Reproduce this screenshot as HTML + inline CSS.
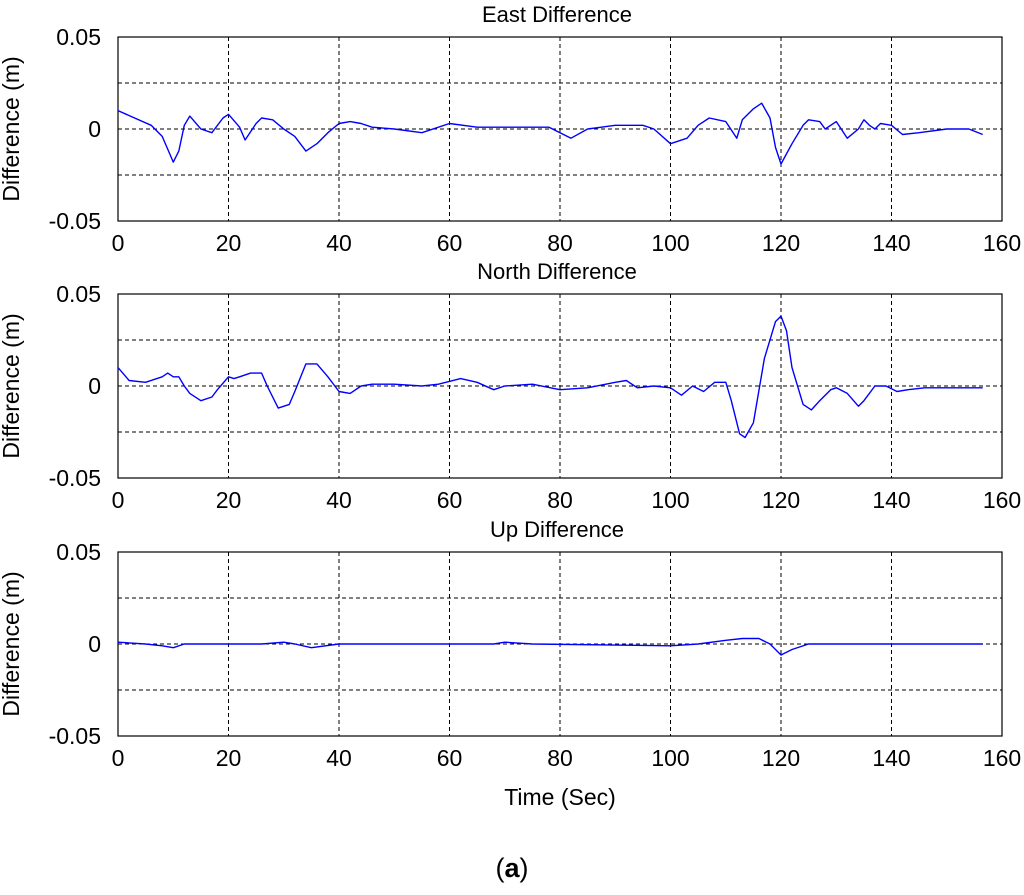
<!DOCTYPE html>
<html><head><meta charset="utf-8"><style>
body{margin:0;background:#fff;}
svg text{font-family:"Liberation Sans",sans-serif;fill:#000;}
</style></head><body>
<svg id="chart" width="1024" height="890" xmlns="http://www.w3.org/2000/svg"></svg>
<script>
const xTicks=[0,20,40,60,80,100,120,140,160];
const yTicks=[0.05,0.025,0,-0.025,-0.05];
const yTickLabels=["0.05","","0","","-0.05"];
const titles=["East Difference","North Difference","Up Difference"];
const eastT=[0,3,6,8,10,11,12,13,15,17,19,20,22,23,25,26,28,30,32,34,36,38,40,42,44,46,50,55,60,65,70,78,82,85,90,95,97,100,103,105,107,110,112,113,115,116.5,118,119,120,122,124,125,127,128,130,132,134,135,136,137,138,140,142,145,150,154,156.5];
const eastV=[0.010,0.006,0.002,-0.004,-0.018,-0.012,0.002,0.007,0.000,-0.002,0.006,0.008,0.001,-0.006,0.003,0.006,0.005,0.000,-0.004,-0.012,-0.008,-0.002,0.003,0.004,0.003,0.001,0,-0.002,0.003,0.001,0.001,0.001,-0.005,0,0.002,0.002,0.000,-0.008,-0.005,0.002,0.006,0.004,-0.005,0.005,0.011,0.014,0.006,-0.010,-0.019,-0.008,0.002,0.005,0.004,0,0.004,-0.005,0,0.005,0.002,0.000,0.003,0.002,-0.003,-0.002,0,0,-0.003];
const northT=[0,2,5,8,9,10,11,12,13,15,17,18,20,21,22,24,26,27,29,31,32,34,36,38,40,42,44,46,50,55,58,62,65,68,70,75,80,85,90,92,94,97,100,102,104,106,108,110,111,112.5,113.5,115,117,119,120,121,122,124,125.5,127,129,130,132,134,135,137,139,141,143,146,156.5];
const northV=[0.010,0.003,0.002,0.005,0.007,0.005,0.005,0,-0.004,-0.008,-0.006,-0.002,0.005,0.004,0.005,0.007,0.007,0,-0.012,-0.010,-0.003,0.012,0.012,0.005,-0.003,-0.004,0,0.001,0.001,0.000,0.001,0.004,0.002,-0.002,0,0.001,-0.002,-0.001,0.002,0.003,-0.001,0,-0.001,-0.005,0,-0.003,0.002,0.002,-0.008,-0.026,-0.028,-0.020,0.015,0.035,0.038,0.030,0.010,-0.010,-0.013,-0.008,-0.002,-0.001,-0.004,-0.011,-0.008,0,0,-0.003,-0.002,-0.001,-0.001];
const upT=[0,5,8,10,12,20,26,30,32,35,40,60,68,70,75,100,105,110,113,116,118,120,122,125,156.5];
const upV=[0.001,0.000,-0.001,-0.002,0,0,0,0.001,0,-0.002,0,0,0,0.001,0,-0.001,0,0.002,0.003,0.003,0,-0.006,-0.003,0,0];
const series=[[eastT,eastV],[northT,northV],[upT,upV]];
const tops=[37,294,552];
const L=118,R=1002,H=184;
const svg=document.getElementById('chart');
const NS="http://www.w3.org/2000/svg";
function mk(tag,attrs,parent){const e=document.createElementNS(NS,tag);for(const k in attrs)e.setAttribute(k,attrs[k]);(parent||svg).appendChild(e);return e;}
const xs=v=>L+(v-0)/160*(R-L);
tops.forEach((top,i)=>{
  const ys=v=>top+(0.05-v)/0.1*H;
  const g=mk('g',{});
  
  
  xTicks.slice(1,-1).forEach(t=>mk('line',{x1:xs(t),x2:xs(t),y1:top,y2:top+H,stroke:'#000','stroke-width':1,'stroke-dasharray':'4,3'},g));
  yTicks.slice(1,-1).forEach(t=>mk('line',{x1:L,x2:R,y1:ys(t),y2:ys(t),stroke:'#000','stroke-width':1,'stroke-dasharray':'4,3'},g));
  const fr=mk('rect',{x:L,y:top,width:R-L,height:H,fill:'none',stroke:'#000','stroke-width':1.2},g);
  
  
  xTicks.forEach(t=>{const tx=mk('text',{x:xs(t),y:top+H+30,'font-size':23,'text-anchor':'middle'},g);tx.textContent=t;
    
    });
  yTicks.forEach((t,j)=>{if(!yTickLabels[j])return;const tx=mk('text',{x:L-17,y:ys(t)+8,'font-size':23,'text-anchor':'end'},g);tx.textContent=yTickLabels[j];
    
    });
  const tt=mk('text',{x:557,y:top-15,'font-size':22,'text-anchor':'middle'},g);tt.textContent=titles[i];
  
  
  const yl=mk('text',{x:0,y:0,'font-size':23,'text-anchor':'middle',transform:`translate(19,${top+H/2}) rotate(-90)`},g);yl.textContent='Difference (m)';
  
  
  const [T,V]=series[i];
  const d=T.map((t,k)=>(k?'L':'M')+xs(t).toFixed(1)+','+ys(V[k]).toFixed(1)).join(' ');
  const p=mk('path',{d:d,fill:'none',stroke:'#0000ff','stroke-width':1.4,'stroke-linejoin':'round'},g);
  
  
});
const xt=mk('text',{x:560,y:805,'font-size':23,'text-anchor':'middle'});xt.textContent='Time (Sec)';


const cap=mk('text',{x:512,y:877,'font-size':27,'text-anchor':'middle','font-family':'Liberation Serif, serif'});
cap.innerHTML='(<tspan font-weight="bold">a</tspan>)';


</script>
</body></html>
